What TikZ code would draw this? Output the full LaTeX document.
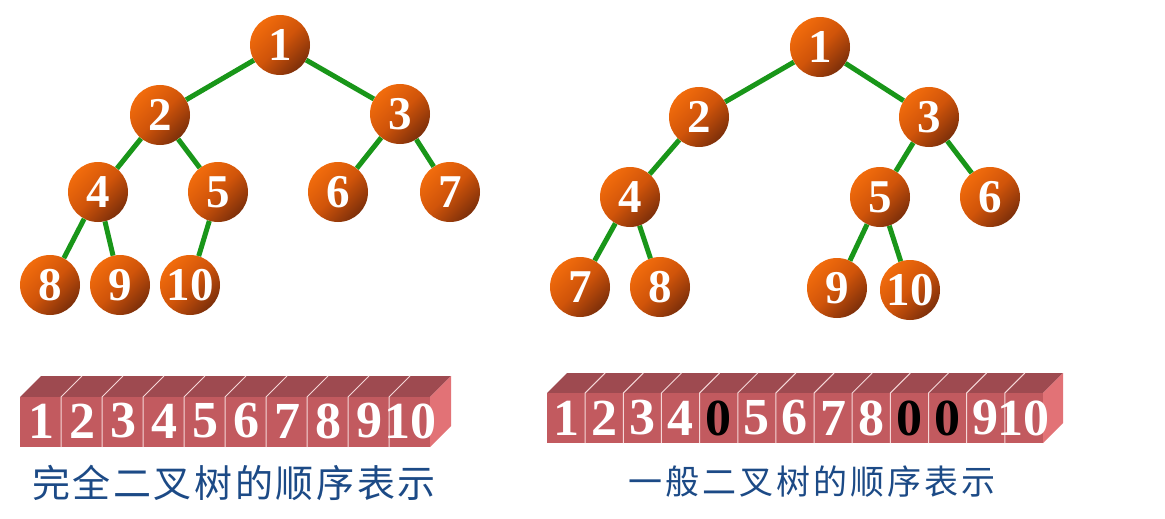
\documentclass[tikz,border=0pt]{standalone}
\usepackage{fontspec}
\setmainfont{Liberation Serif}
\newfontfamily\cjkA[LetterSpace=7]{Noto Sans CJK SC}
\newfontfamily\cjkB[LetterSpace=9]{Noto Sans CJK SC}
\definecolor{edgegreen}{RGB}{25,150,25}
\definecolor{ballA}{RGB}{242,108,12}
\definecolor{ballM}{RGB}{208,84,10}
\definecolor{ballB}{RGB}{125,47,10}
\definecolor{frontC}{RGB}{194,90,95}
\definecolor{topC}{RGB}{158,74,80}
\definecolor{sideC}{RGB}{226,114,118}
\definecolor{sepC}{RGB}{245,215,215}
\definecolor{capC}{RGB}{28,74,134}
\tikzset{
  ball/.style={circle, minimum size=60pt, inner sep=0pt, top color=ballA, bottom color=ballB, middle color=ballM, shading angle=45, text=white, font=\bfseries\fontsize{47}{47}\selectfont},
  tedge/.style={draw=edgegreen, line width=5pt},
  celltxt/.style={inner sep=0pt, font=\bfseries\fontsize{52}{52}\selectfont},
  caption/.style={text=capC, inner sep=0pt}
}
\begin{document}
\begin{tikzpicture}[x=1pt,y=-1pt]
\useasboundingbox (0,0) rectangle (1165,519);
% ---------- left tree ----------
\node[ball] (a1) at (280,45) {1};
\node[ball] (a2) at (160,115) {2};
\node[ball] (a3) at (400,114) {3};
\node[ball] (a4) at (98,192) {4};
\node[ball] (a5) at (218,192) {5};
\node[ball] (a6) at (338,192) {6};
\node[ball] (a7) at (450,192) {7};
\node[ball] (a8) at (50,285) {8};
\node[ball] (a9) at (120,285) {9};
\node[ball] (a10) at (190,285) {10};
\foreach \p/\c in {a1/a2,a1/a3,a2/a4,a2/a5,a3/a6,a3/a7,a4/a8,a4/a9,a5/a10}
  \draw[tedge] (\p) -- (\c);
% ---------- right tree ----------
\node[ball] (b1) at (820,47) {1};
\node[ball] (b2) at (699,117) {2};
\node[ball] (b3) at (929,117) {3};
\node[ball] (b4) at (630,197) {4};
\node[ball] (b5) at (880,197) {5};
\node[ball] (b6) at (990,197) {6};
\node[ball] (b7) at (580,287) {7};
\node[ball] (b8) at (660,287) {8};
\node[ball] (b9) at (837,288) {9};
\node[ball] (b10) at (910,290) {10};
\foreach \p/\c in {b1/b2,b1/b3,b2/b4,b3/b5,b3/b6,b4/b7,b4/b8,b5/b9,b5/b10}
  \draw[tedge] (\p) -- (\c);
% ---------- left array ----------
\fill[topC] (20,397) -- (41,376) -- (451,376) -- (430,397) -- cycle;
\fill[frontC] (20,397) rectangle (430,447);
\fill[sideC] (430,397) -- (451,376) -- (451,426) -- (430,447) -- cycle;
\foreach \i in {1,...,9}
  \draw[sepC, line width=1pt] ({20+41*\i},447) -- ({20+41*\i},397) -- ({41+41*\i},376);
\foreach \v [count=\i] in {1,...,10}
  \node[celltxt, text=white] (L\i) at ({41*\i},421) {\v};
\node[caption, font=\cjkA\fontsize{38}{38}\selectfont] (capL) at (234,483) {完全二叉树的顺序表示};
% ---------- right array ----------
\fill[topC] (547,393) -- (567,373) -- (1063,373) -- (1043,393) -- cycle;
\fill[frontC] (547,393) rectangle (1043,443);
\fill[sideC] (1043,393) -- (1063,373) -- (1063,423) -- (1043,443) -- cycle;
\foreach \i in {1,...,12}
  \draw[sepC, line width=1pt] ({547+38.15*\i},443) -- ({547+38.15*\i},393) -- ({567+38.15*\i},373);
\foreach \v/\c [count=\i] in {1/white,2/white,3/white,4/white,0/black,5/white,6/white,7/white,8/white,0/black,0/black,9/white,10/white}
  \node[celltxt, text=\c] (R\i) at ({547+38.15*\i-19.1},418) {\v};
\node[caption, font=\cjkB\fontsize{34}{34}\selectfont] (capR) at (812,482) {一般二叉树的顺序表示};
\end{tikzpicture}
\end{document}
